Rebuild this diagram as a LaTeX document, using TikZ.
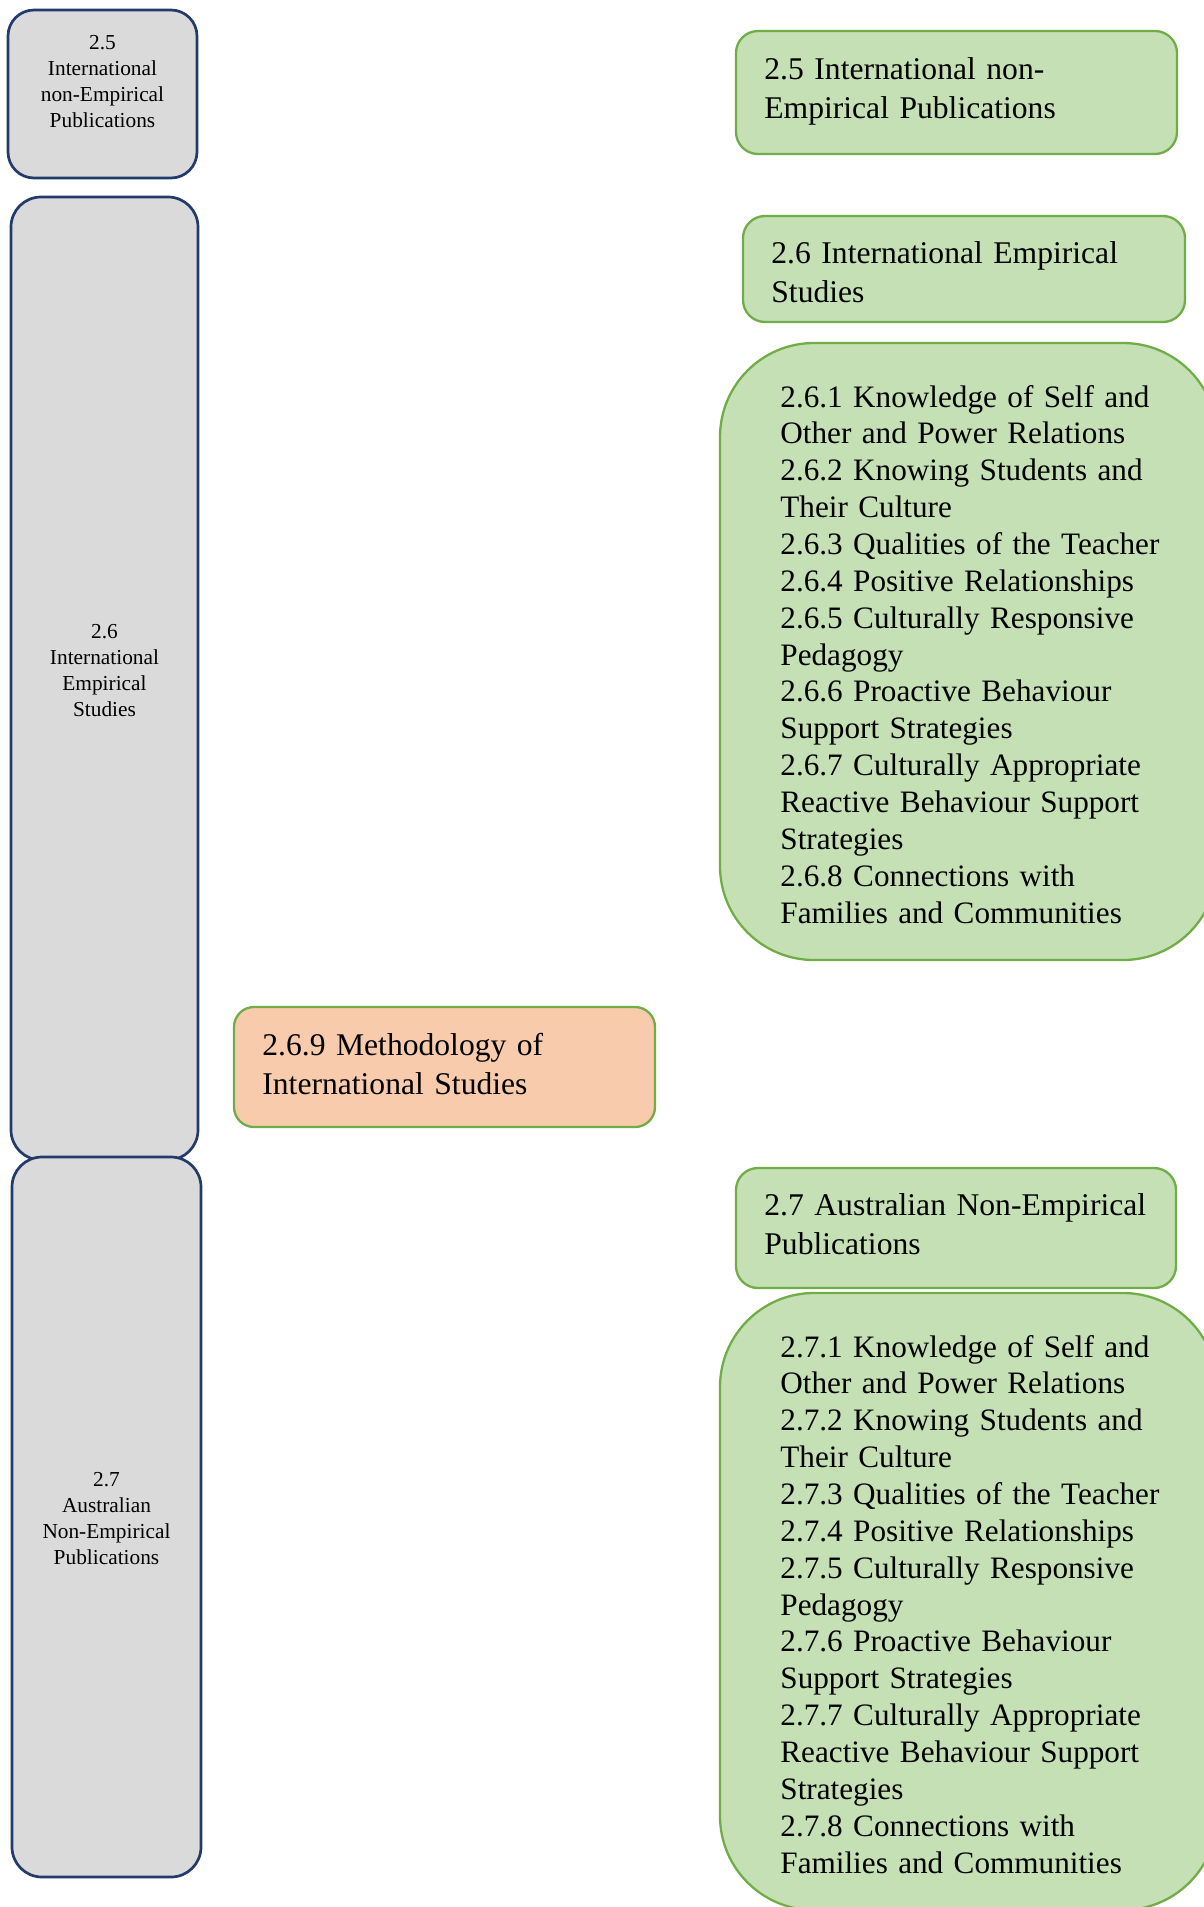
\documentclass[tikz,border=0pt]{standalone}
\usepackage{fontspec}
\setmainfont{Liberation Serif}
\usetikzlibrary{fit}

\definecolor{greyfill}{HTML}{DADADA}
\definecolor{navyline}{HTML}{223B6B}
\definecolor{greenfill}{HTML}{C5E0B4}
\definecolor{greenline}{HTML}{70AD47}
\definecolor{peachfill}{HTML}{F8CBAD}

\tikzset{
  sectionbar/.style={draw=navyline, fill=greyfill, line width=1.35pt, inner sep=0pt, rounded corners=15pt},
  headbox/.style={draw=greenline, fill=greenfill, line width=1.15pt, inner sep=0pt, rounded corners=11pt},
  listbox/.style={draw=greenline, fill=greenfill, line width=1.15pt, inner sep=0pt, rounded corners=47pt},
  methbox/.style={draw=greenline, fill=peachfill, line width=1.15pt, inner sep=0pt, rounded corners=10pt},
  bartext/.style={inner sep=0pt, anchor=base, text width=100pt, align=center,
    font=\fontsize{10.67pt}{13.15pt}\selectfont},
  headtext/.style={inner sep=0pt, anchor=base west, text width=215pt, align=left,
    font=\fontsize{15.8pt}{19.5pt}\selectfont},
  listtext/.style={inner sep=0pt, anchor=base west, text width=230pt, align=left,
    font=\fontsize{15.6pt}{18.43pt}\selectfont},
}

\begin{document}
\begin{tikzpicture}[x=0.5pt, y=-0.5pt]
  \useasboundingbox (0,0) rectangle (1204,1907);

  % left column: section bars
  \node[sectionbar, rounded corners=13pt, fit={(8,10) (197,178)}] (bar25) {};
  \node[sectionbar, fit={(11,197) (198,1160)}] (bar26) {};
  \node[sectionbar, fit={(12,1157) (201,1877)}] (bar27) {};

  \node[bartext] (bar25t) at (102.5,49) {2.5\\International\\non-Empirical\\Publications};
  \node[bartext] (bar26t) at (104.5,638) {2.6\\International\\Empirical\\Studies};
  \node[bartext] (bar27t) at (106.5,1486) {2.7\\Australian\\Non-Empirical\\Publications};

  % right column: section headings and subsection lists
  \node[headbox, fit={(736,31) (1177,154)}] (head25) {};
  \node[headtext] (head25t) at (764,79) {2.5 International non-\\Empirical Publications};

  \node[headbox, fit={(743,216) (1185,322)}] (head26) {};
  \node[headtext] (head26t) at (771,263) {2.6 International Empirical\\Studies};

  \node[listbox, fit={(720,343) (1217,960)}] (list26) {};
  \node[listtext] (list26t) at (780,407) {2.6.1 Knowledge of Self and\\
    Other and Power Relations\\
    2.6.2 Knowing Students and\\
    Their Culture\\
    2.6.3 Qualities of the Teacher\\
    2.6.4 Positive Relationships\\
    2.6.5 Culturally Responsive\\
    Pedagogy\\
    2.6.6 Proactive Behaviour\\
    Support Strategies\\
    2.6.7 Culturally Appropriate\\
    Reactive Behaviour Support\\
    Strategies\\
    2.6.8 Connections with\\
    Families and Communities};

  % methodology box
  \node[methbox, fit={(234,1007) (655,1127)}] (meth269) {};
  \node[headtext] (meth269t) at (262,1055) {2.6.9 Methodology of\\International Studies};

  \node[headbox, fit={(736,1168) (1176,1288)}] (head27) {};
  \node[headtext] (head27t) at (764,1215) {2.7 Australian Non-Empirical\\Publications};

  \node[listbox, fit={(720,1293) (1217,1910)}] (list27) {};
  \node[listtext] (list27t) at (780,1357) {2.7.1 Knowledge of Self and\\
    Other and Power Relations\\
    2.7.2 Knowing Students and\\
    Their Culture\\
    2.7.3 Qualities of the Teacher\\
    2.7.4 Positive Relationships\\
    2.7.5 Culturally Responsive\\
    Pedagogy\\
    2.7.6 Proactive Behaviour\\
    Support Strategies\\
    2.7.7 Culturally Appropriate\\
    Reactive Behaviour Support\\
    Strategies\\
    2.7.8 Connections with\\
    Families and Communities};
\end{tikzpicture}
\end{document}
